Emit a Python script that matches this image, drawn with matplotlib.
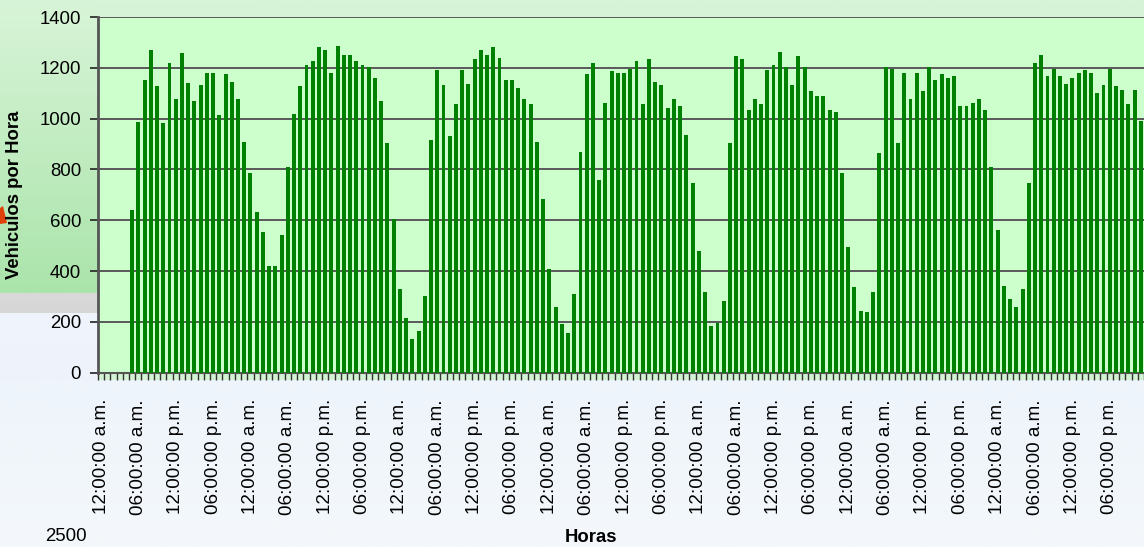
import matplotlib
matplotlib.use("Agg")
import matplotlib.pyplot as plt
import numpy as np
from matplotlib.patches import Polygon

# ---------------- data ----------------
hour_index = list(range(168))
vehicles = [
    0, 0, 0, 0, 0, 640, 985, 1154, 1272, 1127, 981, 1217, 1079, 1260, 1140, 1068,
    1134, 1178, 1178, 1013, 1174, 1146, 1076, 907, 785, 631, 553, 419, 419, 541,
    808, 1020, 1127, 1213, 1225, 1280, 1272, 1178, 1284, 1252, 1252, 1225, 1213, 1205,
    1158, 1068, 903, 604, 329, 215, 132, 164, 301, 914, 1193, 1134, 930, 1056,
    1193, 1138, 1233, 1272, 1252, 1280, 1237, 1154, 1154, 1119, 1076, 1056, 907, 683,
    407, 258, 191, 156, 309, 867, 1174, 1217, 757, 1060, 1186, 1178, 1178, 1197,
    1225, 1056, 1233, 1146, 1134, 1040, 1079, 1048, 934, 745, 478, 317, 183, 195,
    282, 903, 1245, 1233, 1032, 1076, 1056, 1193, 1213, 1264, 1205, 1134, 1245, 1205,
    1107, 1091, 1091, 1032, 1028, 785, 494, 337, 242, 238, 317, 863, 1205, 1197,
    903, 1178, 1076, 1178, 1107, 1205, 1154, 1174, 1158, 1166, 1048, 1048, 1060, 1076,
    1032, 808, 561, 341, 290, 258, 329, 745, 1217, 1252, 1166, 1197, 1166, 1138,
    1158, 1178, 1193, 1178, 1099, 1134, 1197, 1127, 1111, 1056, 1111, 989,
]
tick_label_cycle = ["12:00:00 a.m.", "06:00:00 a.m.", "12:00:00 p.m.", "06:00:00 p.m."]
tick_labels = tick_label_cycle * 7
y_ticks = [0, 200, 400, 600, 800, 1000, 1200, 1400]
y_label = "Vehiculos por Hora"
x_label = "Horas"

# ---------------- figure ----------------
W, H = 1144, 547
fig = plt.figure(figsize=(W / 100, H / 100), dpi=100)
plt.rcParams['font.family'] = ['Liberation Sans', 'DejaVu Sans']

# background (slide) drawn in pixel coordinates
bg = fig.add_axes([0, 0, 1, 1], zorder=-5)
bg.set_xlim(0, W)
bg.set_ylim(H, 0)
bg.axis('off')

def vgrad(ax, x0, x1, y0, y1, c0, c1):
    c0 = np.array(matplotlib.colors.to_rgb(c0))
    c1 = np.array(matplotlib.colors.to_rgb(c1))
    t = np.linspace(0, 1, 64)[:, None]
    img = (c0 * (1 - t) + c1 * t)[:, None, :]
    ax.imshow(img, extent=(x0, x1, y1, y0), aspect='auto', interpolation='bilinear')

vgrad(bg, 0, W, 0, 380, '#d8f4d8', '#d4f2d4')
vgrad(bg, 0, W, 380, H, '#eef4fb', '#f4f8fb')
vgrad(bg, 0, 98, 0, 293, '#d8f4d8', '#abe4ab')
vgrad(bg, 0, 98, 293, 313, '#d9d9d9', '#d6d6d6')
vgrad(bg, 0, 98, 313, 380, '#f0f4fc', '#eef3fb')
bg.add_patch(Polygon([(0, 208), (3, 206), (7, 223), (0, 224)], closed=True,
                     facecolor='#e0400a', edgecolor='none'))
bg.text(45, 545, "2500", fontsize=13.4, va='bottom', ha='left', color='#000000')
bg.set_xlim(0, W)
bg.set_ylim(H, 0)

# main axes
left = 97.9 / W
bottom = (H - 372.7) / H
top = (H - 17) / H
ax = fig.add_axes([left, bottom, 1 - left, top - bottom])
ax.set_facecolor('#ccffcc')

ax.bar(hour_index, vehicles, width=0.63, color='#008000', zorder=3)

ax.set_xlim(-0.5, 167.28)
ax.set_ylim(0, 1400)

ax.set_yticks(y_ticks)
ax.set_yticklabels([str(v) for v in y_ticks], fontsize=13.4)
ax.yaxis.grid(True, color='#585858', linewidth=1.4, zorder=1)
ax.set_axisbelow(True)
ax.tick_params(axis='y', direction='out', length=6, width=1.2, color='#222222', pad=6)

major_pos = list(range(0, 168, 6))
ax.set_xticks(major_pos)
ax.set_xticklabels(tick_labels, rotation=90, fontsize=13.6, va='top', ha='center')
ax.set_xticks([i - 0.5 for i in range(169)], minor=True)
ax.tick_params(axis='x', which='major', length=0, pad=19)
ax.tick_params(axis='x', which='minor', direction='out', length=5, width=1, color='#333333')

for s in ['top', 'right']:
    ax.spines[s].set_visible(False)
ax.spines['left'].set_color('#555555')
ax.spines['left'].set_linewidth(2)
ax.spines['bottom'].set_color('#555555')
ax.spines['bottom'].set_linewidth(1.5)

fig.text(15 / W, 1 - 195 / H, y_label, rotation=90, fontsize=13.3, fontweight='bold',
         ha='center', va='center')
fig.text(591 / W, 1 - 537 / H, x_label, fontsize=13.3, fontweight='bold',
         ha='center', va='center')

fig.savefig("out.png", dpi=100)
